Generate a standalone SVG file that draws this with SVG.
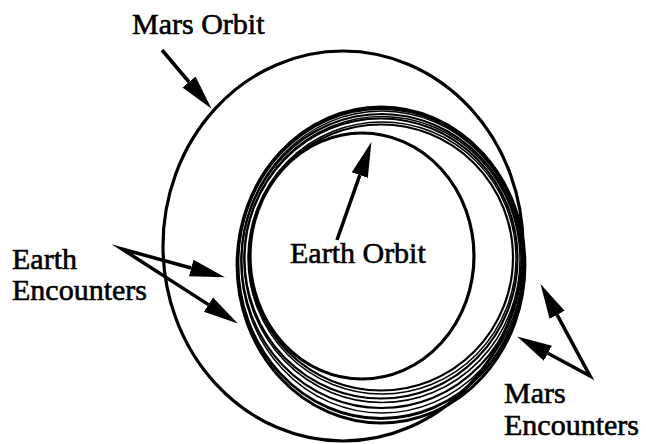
<svg xmlns="http://www.w3.org/2000/svg" width="646" height="444" viewBox="0 0 646 444">
  <style>
    .orb { fill: none; stroke: #000; stroke-width: 3.2; }
    .traj { fill: none; stroke: #000; stroke-width: 2.8; }
    .mid { fill: none; stroke: #000; stroke-width: 2.2; }
    .thin { fill: none; stroke: #000; stroke-width: 1.5; }
    .arr { fill: none; stroke: #000; stroke-width: 3.5; stroke-linejoin: miter; stroke-miterlimit: 20; }
    text { font-family: "Liberation Serif", "Times New Roman", serif; font-size: 30px; fill: #000; stroke: #000; stroke-width: 0.6; }
  </style>
  <defs>
    <marker id="head" markerUnits="userSpaceOnUse" markerWidth="40" markerHeight="20" viewBox="0 -10 40 20" refX="0" refY="0" orient="auto-start-reverse">
      <path d="M0,-8.5 L35,0 L0,8.5 Z" fill="#000"/>
    </marker>
  </defs>
  <rect width="646" height="444" fill="#fff"/>

  <g id="mars-orbit">
    <ellipse class="orb" cx="343" cy="246" rx="180" ry="195"/>
  </g>
  <g id="earth-orbit">
    <ellipse class="orb" cx="362" cy="256" rx="112" ry="123"/>
  </g>
  <g id="trajectories">
    <ellipse class="traj" cx="381" cy="265" rx="144" ry="158"/>
    <ellipse class="traj" cx="381" cy="263.5" rx="143" ry="155"/>
    <ellipse class="thin" cx="382" cy="262" rx="141" ry="151"/>
    <ellipse class="mid" cx="381.5" cy="261" rx="140" ry="147"/>
    <ellipse class="thin" cx="382" cy="259.5" rx="138" ry="143"/>
    <ellipse class="mid" cx="381" cy="258.5" rx="136.5" ry="140"/>
    <ellipse class="thin" cx="382" cy="258" rx="134" ry="136"/>
    <ellipse class="mid" cx="381" cy="257.5" rx="132" ry="133"/>
  </g>

  <g id="connectors">
    <line class="arr" x1="162" y1="50" x2="189" y2="82" marker-end="url(#head)"/>
    <line class="arr" x1="337" y1="240" x2="359.8" y2="175.1" marker-end="url(#head)"/>
    <polyline class="arr" points="191.2,268 122,249 208.4,304.6" marker-start="url(#head)" marker-end="url(#head)"/>
    <polyline class="arr" points="557.1,314.9 590,376 547.9,353.2" marker-start="url(#head)" marker-end="url(#head)"/>
  </g>

  <g id="label-mars-orbit"><text x="132" y="34">Mars Orbit</text></g>
  <g id="label-earth-orbit"><text x="290" y="263">Earth Orbit</text></g>
  <g id="label-earth-encounters"><text x="12" y="269">Earth</text><text x="12" y="300">Encounters</text></g>
  <g id="label-mars-encounters"><text x="504" y="403">Mars</text><text x="504" y="435">Encounters</text></g>
</svg>
